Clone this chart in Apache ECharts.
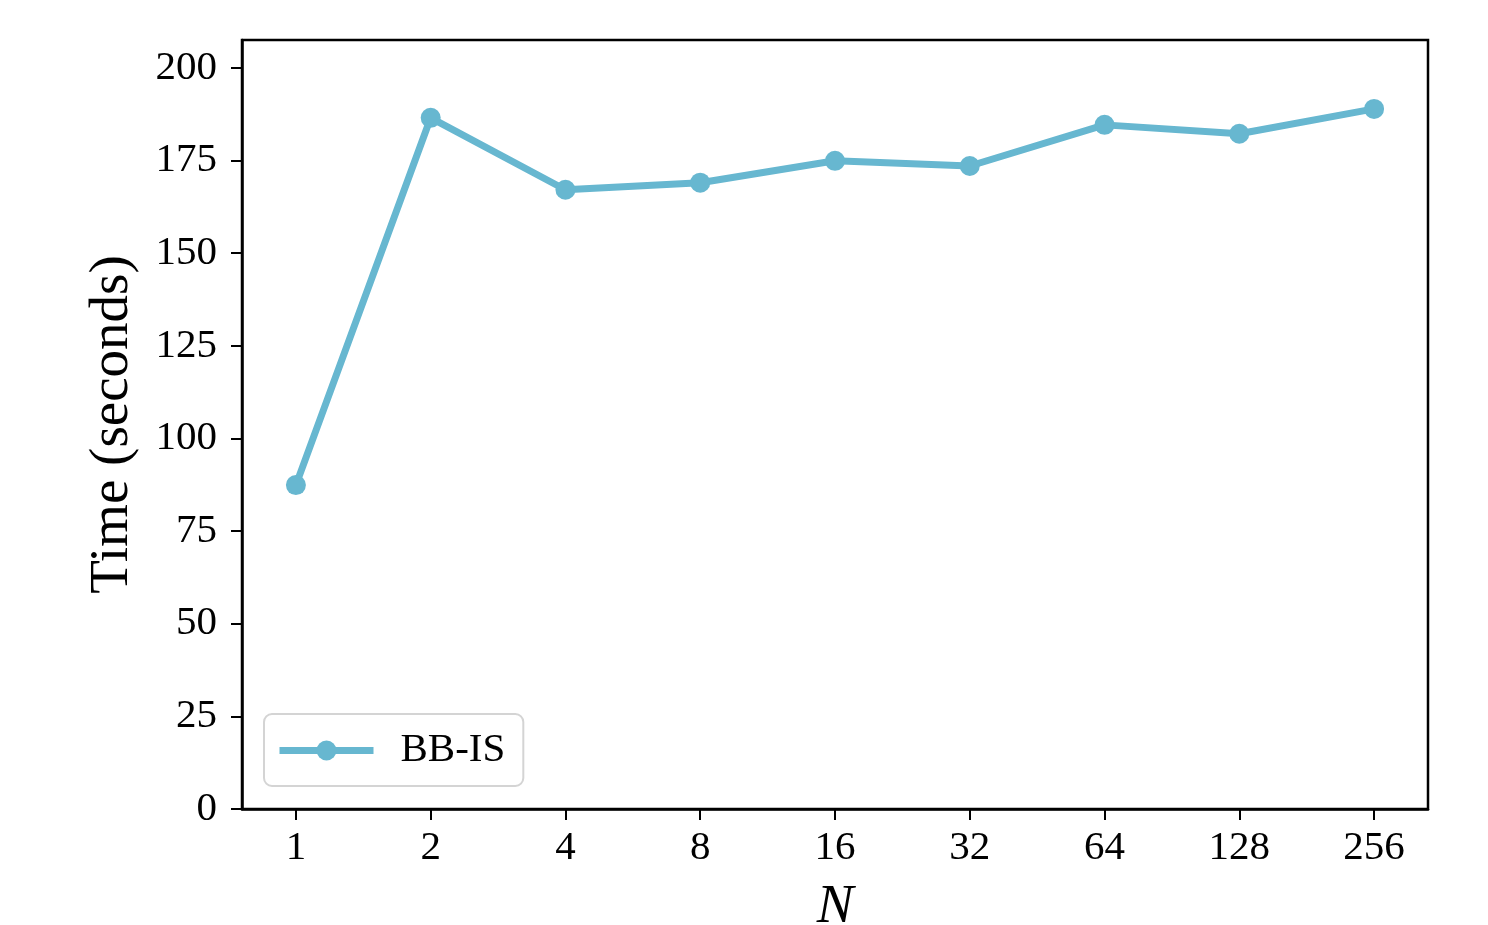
<!DOCTYPE html>
<html>
<head>
<meta charset="utf-8">
<script src="https://cdn.jsdelivr.net/npm/echarts@6/dist/echarts.min.js"></script>
<style>
  html, body { margin: 0; padding: 0; background: #fff; }
  #chart { width: 1488px; height: 925px; }
</style>
</head>
<body>
<div id="chart"></div>
<script>
// Number of instances N (log2 spaced) and wall-clock time for BB-IS
const nLabels = ['1', '2', '4', '8', '16', '32', '64', '128', '256'];
const timeSeconds = [87.4, 186.5, 167.1, 169.0, 174.9, 173.5, 184.6, 182.2, 188.9];
const yTicks = [0, 25, 50, 75, 100, 125, 150, 175, 200];

const FONT = 'Liberation Serif, Times New Roman, serif';
const COLOR = '#67b7d0';

const positions = nLabels.map((_, i) => i);
const points = timeSeconds.map((v, i) => [i, v]);

const chart = echarts.init(document.getElementById('chart'), null, { renderer: 'canvas' });
chart.setOption({
  animation: false,
  backgroundColor: '#fff',
  grid: {
    left: 242, top: 40, width: 1186, height: 769,
    outerBoundsMode: 'none',
    containLabel: false,
    show: true, borderColor: '#000', borderWidth: 2.5
  },
  legend: {
    data: ['BB-IS'],
    left: 264, top: 714,
    orient: 'vertical',
    backgroundColor: '#fff',
    borderColor: '#d4d4d4',
    borderWidth: 2,
    borderRadius: 8,
    padding: [16, 18, 15, 12],
    itemWidth: 94,
    itemHeight: 25,
    itemGap: 0,
    lineStyle: { width: 7 },
    textStyle: { fontFamily: FONT, fontSize: 41, color: '#000', padding: [0, 0, 0, 22] }
  },
  xAxis: {
    type: 'value',
    min: -0.4, max: 8.4,
    name: 'N',
    nameLocation: 'middle',
    nameGap: 71,
    nameTextStyle: { fontFamily: FONT, fontSize: 55, fontStyle: 'italic', color: '#000' },
    splitLine: { show: false },
    axisLine: { onZero: false, lineStyle: { color: '#000', width: 2.5 } },
    axisTick: { show: true, inside: false, length: 11, lineStyle: { color: '#000', width: 2 }, customValues: positions },
    axisLabel: {
      customValues: positions,
      margin: 19,
      fontFamily: FONT, fontSize: 41, color: '#000',
      formatter: v => nLabels[Math.round(v)]
    }
  },
  yAxis: {
    type: 'value',
    min: 0, max: 207.5,
    name: 'Time (seconds)',
    nameLocation: 'middle',
    nameGap: 102,
    nameTextStyle: { fontFamily: FONT, fontSize: 55, color: '#000' },
    splitLine: { show: false },
    axisLine: { show: true, onZero: false, lineStyle: { color: '#000', width: 2.5 } },
    axisTick: { show: true, inside: false, length: 11, lineStyle: { color: '#000', width: 2 }, customValues: yTicks },
    axisLabel: {
      customValues: yTicks,
      margin: 25,
      fontFamily: FONT, fontSize: 41, color: '#000'
    }
  },
  series: [{
    name: 'BB-IS',
    type: 'line',
    data: points,
    symbol: 'circle',
    symbolSize: 20,
    itemStyle: { color: COLOR },
    lineStyle: { color: COLOR, width: 7 }
  }]
});
</script>
</body>
</html>
